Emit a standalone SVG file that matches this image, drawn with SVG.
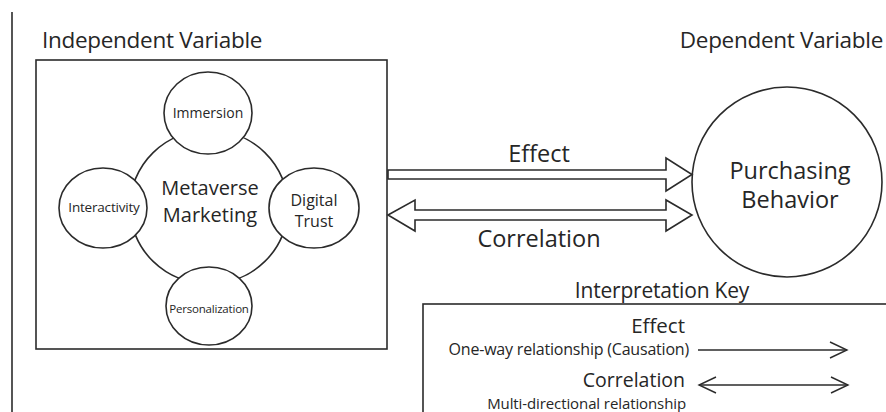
<svg xmlns="http://www.w3.org/2000/svg" width="886" height="412" viewBox="0 0 886 412">
<style>
text{font-family:"Open Sans","Noto Sans","DejaVu Sans",sans-serif;fill:#262626}
.ln{fill:none;stroke:#2b2b2b;stroke-width:1.6}
.nd{fill:#fff;stroke:#2b2b2b;stroke-width:1.6}
.mid{text-anchor:middle}
.end{text-anchor:end}
</style>
<defs>
<marker id="chev" viewBox="0 0 20 20" refX="18" refY="10" markerWidth="20" markerHeight="20" markerUnits="userSpaceOnUse" orient="auto-start-reverse">
<path d="M1,2 L18,10 L1,18" fill="none" stroke="#2b2b2b" stroke-width="1.4"/>
</marker>
</defs>
<rect width="886" height="412" fill="#fff"/>
<line x1="12" y1="12" x2="12" y2="412" class="ln" stroke-width="2"/>

<text x="42" y="48" font-size="22.5" letter-spacing="-0.3">Independent Variable</text>
<text x="883" y="48" font-size="22.5" class="end" letter-spacing="-0.3">Dependent Variable</text>

<g id="independent">
<rect x="36" y="60" width="351" height="289" class="ln"/>
</g>
<g id="metaverse-marketing">
<ellipse cx="209" cy="207" rx="79" ry="77" class="nd"/>
<text x="210" y="195" font-size="20" class="mid">Metaverse</text>
<text x="210" y="222" font-size="20" class="mid">Marketing</text>
</g>
<g id="immersion">
<ellipse cx="208" cy="113" rx="44" ry="41" class="nd"/>
<text x="208" y="118" font-size="14" class="mid">Immersion</text>
</g>
<g id="interactivity">
<ellipse cx="103" cy="208" rx="44" ry="40" class="nd"/>
<text x="104" y="212" font-size="13.5" class="mid" letter-spacing="-0.2">Interactivity</text>
</g>
<g id="digital-trust">
<ellipse cx="314" cy="208" rx="45" ry="40" class="nd"/>
<text x="314" y="206" font-size="16" class="mid">Digital</text>
<text x="314" y="227" font-size="16" class="mid">Trust</text>
</g>
<g id="personalization">
<ellipse cx="209" cy="306" rx="43" ry="39" class="nd"/>
<text x="209" y="313" font-size="11.5" class="mid" letter-spacing="-0.2">Personalization</text>
</g>

<g id="purchasing-behavior">
<circle cx="787" cy="182" r="95" class="nd"/>
<text x="790" y="179" font-size="23.5" class="mid">Purchasing</text>
<text x="790" y="208" font-size="23.5" class="mid">Behavior</text>
</g>

<g id="connectors">
<path d="M388,170 L666,170 L666,158 L692,174.5 L666,191 L666,179 L388,179 Z" class="nd"/>
<path d="M388,215 L415,200 L415,210 L666,210 L666,200 L692,215 L666,231 L666,220 L415,220 L415,231 Z" class="nd"/>
<text x="539" y="162" font-size="23.5" class="mid">Effect</text>
<text x="539" y="247" font-size="23.5" class="mid">Correlation</text>
</g>

<g id="key">
<text x="662" y="298" font-size="21" class="mid" letter-spacing="-0.2">Interpretation Key</text>
<rect x="423" y="304" width="480" height="120" class="ln"/>
<text x="685" y="333" font-size="20.5" class="end">Effect</text>
<text x="689" y="355" font-size="16" class="end" letter-spacing="-0.2">One-way relationship (Causation)</text>
<line x1="698" y1="350" x2="847" y2="350" class="ln" stroke-width="1.4" marker-end="url(#chev)"/>
<text x="685" y="387" font-size="19.5" class="end">Correlation</text>
<line x1="699" y1="385" x2="848" y2="385" class="ln" stroke-width="1.4" marker-start="url(#chev)" marker-end="url(#chev)"/>
<text x="686" y="409" font-size="15" class="end" letter-spacing="-0.1">Multi-directional relationship</text>
</g>
</svg>
